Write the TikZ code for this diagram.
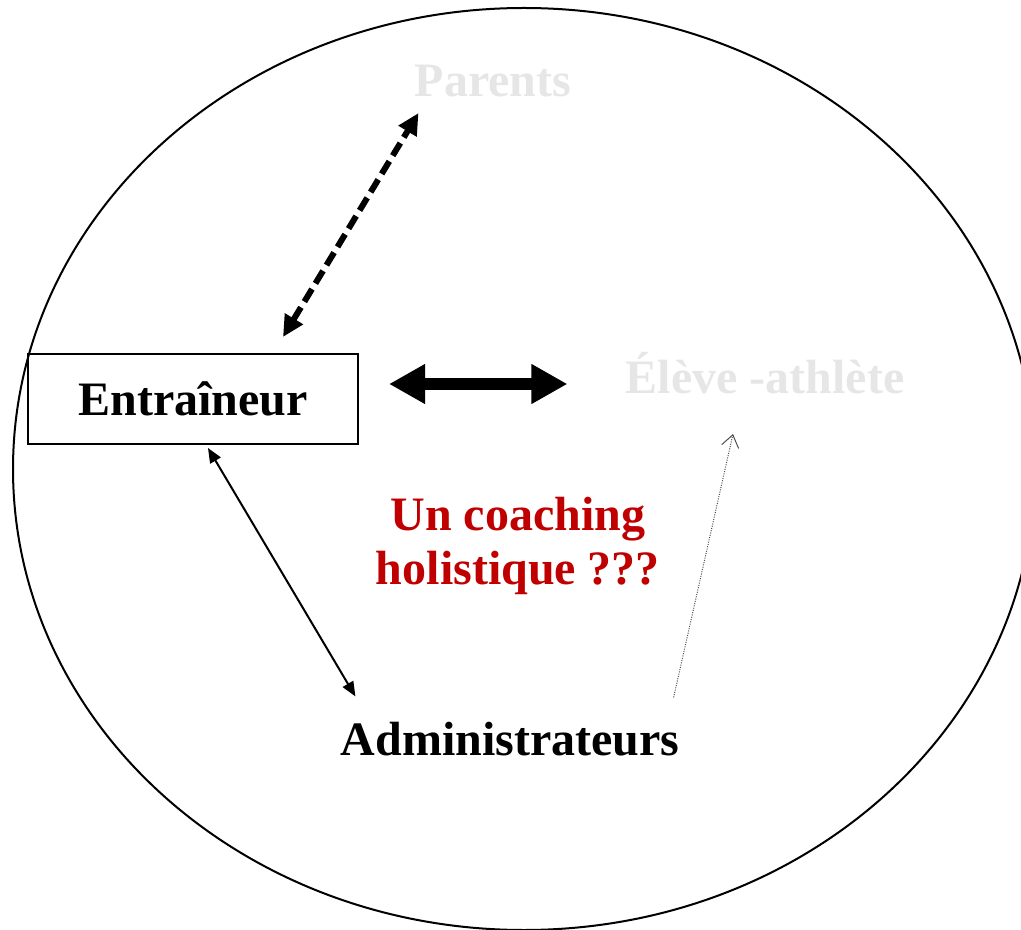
\documentclass[tikz,border=0pt]{standalone}
\usepackage{fontspec}
\setmainfont{Liberation Serif}
\usetikzlibrary{arrows.meta}
\usetikzlibrary{positioning}
\definecolor{palegray}{HTML}{E6E6E6}
\definecolor{darkred}{HTML}{C00000}
\tikzset{
    actor/.style = {inner sep=0pt, anchor=base, font=\fontsize{36}{40.5}\selectfont\bfseries},
    actorg/.style = {actor, text=palegray},
    boxnode/.style = {rectangle, draw=black, line width=1.5pt, minimum width=247.5pt, minimum height=67.5pt, font=\fontsize{36}{40.5}\selectfont\bfseries},
    edgebig/.style = {{Triangle[length=27pt,width=28pt]}-{Triangle[length=27pt,width=28pt]}, line width=9.5pt},
    edgedash/.style = {{Triangle[length=16pt,width=15pt]}-{Triangle[length=16pt,width=15pt]}, line width=4.5pt, dash pattern=on 11pt off 5pt},
    edgen/.style = {{Triangle[length=11pt,width=9pt]}-{Triangle[length=11pt,width=9pt]}, line width=1.5pt},
    edgedot/.style = {-{Straight Barb[length=9pt,width=13pt]}, line width=0.75pt, densely dotted, draw=black!70},
}
\begin{document}
\begin{tikzpicture}[x=0.75pt, y=-0.75pt]
  \useasboundingbox (0,0) rectangle (1021,930);
  \draw[line width=1.5pt] (524,469) ellipse [x radius=511, y radius=461];

  \node[boxnode] at (193,399) (ent) {Entraîneur};
  \node[actorg] at (493,97) (par) {Parents};
  \node[actorg] at (765,394) (ele) {Élève -athlète};
  \node[actor] at (510,755) (adm) {Administrateurs};
  \node[align=center, text=darkred, font=\fontsize{36}{40.5}\selectfont\bfseries, inner sep=0pt] at (518,546) (q) {Un coaching\\holistique ???};

  \draw[edgebig] ([shift={(30,-15)}]ent.east) -- ([shift={(-58,-15)}]ent.east -| ele.west);
  \draw[edgedash] ([shift={(90,-16)}]ent.north) -- ([shift={(4,16)}]par.base west);
  \draw[edgen] ([shift={(15,3)}]ent.south) -- ([shift={(15,-25)}]adm.north west);
  \draw[edgedot] ([shift={(-6,-24)}]adm.north east) -- ([shift={(-32,40)}]ele.base);
\end{tikzpicture}
\end{document}
